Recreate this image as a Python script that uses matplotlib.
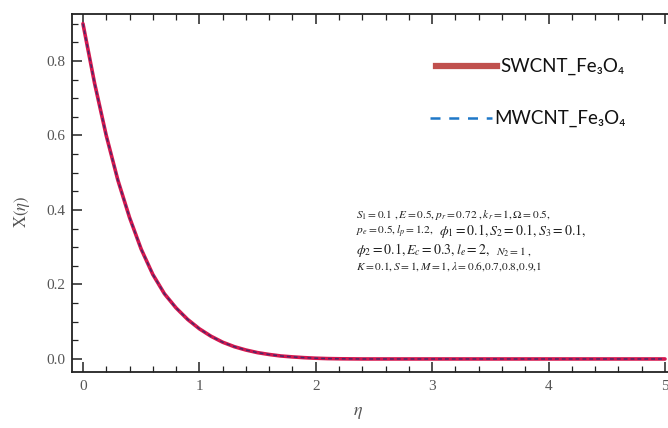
import matplotlib
matplotlib.use("Agg")
import matplotlib.pyplot as plt
from matplotlib.lines import Line2D
import numpy as np

# ---- data ----
eta = [0.0, 0.1, 0.2, 0.3, 0.4, 0.5, 0.6, 0.7, 0.8, 0.9, 1.0, 1.1, 1.2, 1.3, 1.4, 1.5,
       1.6, 1.7, 1.8, 1.9, 2.0, 2.1, 2.2, 2.4, 2.5, 3.0, 3.5, 4.0, 4.5, 5.0]
swcnt_y = [0.900, 0.740, 0.600, 0.480, 0.380, 0.295, 0.227, 0.175, 0.137, 0.106, 0.081,
           0.061, 0.045, 0.033, 0.024, 0.017, 0.012, 0.008, 0.0055, 0.0035, 0.002, 0.001,
           0.0005, 0.0, 0.0, 0.0, 0.0, 0.0, 0.0, 0.0]
mwcnt_y = [0.900, 0.740, 0.600, 0.480, 0.380, 0.295, 0.227, 0.175, 0.137, 0.106, 0.081,
           0.061, 0.045, 0.033, 0.024, 0.017, 0.012, 0.008, 0.0055, 0.0035, 0.002, 0.001,
           0.0005, 0.0, 0.0, 0.0, 0.0, 0.0, 0.0, 0.0]
series_labels = ["SWCNT_Fe\u2083O\u2084", "MWCNT_Fe\u2083O\u2084"]
xticks = [0, 1, 2, 3, 4, 5]
yticks = [0.0, 0.2, 0.4, 0.6, 0.8]

plt.rcParams['mathtext.fontset'] = 'stix'

W, H = 668, 428
fig = plt.figure(figsize=(W / 100, H / 100), dpi=100)
ax = fig.add_axes([72 / W, 1 - 372 / H, (668 - 72) / W, (372 - 14) / H])

ax.plot(eta, swcnt_y, color='#d4174f', lw=2.6, solid_capstyle='round', solid_joinstyle='round')
ax.plot(eta, mwcnt_y, color='#4a2868', lw=1.1, dashes=(2.5, 2.0))

ax.set_xlim(-0.094, 5.026)
ax.set_ylim(-0.035, 0.926)

ax.set_xticks(xticks)
ax.set_xticklabels([str(t) for t in xticks])
ax.set_yticks(yticks)
ax.set_yticklabels(["%.1f" % t for t in yticks])
ax.set_xticks(np.arange(0, 5.01, 0.2), minor=True)
ax.set_yticks(np.arange(0, 0.91, 0.05), minor=True)

ax.spines['right'].set_visible(False)
for s in ['left', 'bottom', 'top']:
    ax.spines[s].set_linewidth(1.3)
    ax.spines[s].set_color('#222222')

ax.tick_params(axis='both', which='major', direction='in', length=7, width=1.1,
               color='#222222', labelcolor='#555555', labelsize=11)
ax.tick_params(axis='both', which='minor', direction='in', length=4, width=0.9, color='#222222')
ax.tick_params(axis='x', which='both', top=True, pad=6)
ax.tick_params(axis='y', which='both', right=False, pad=5)
for lab in ax.get_xticklabels() + ax.get_yticklabels():
    lab.set_family('Liberation Serif')

fig.text(358 / W, 1 - 412 / H, r'$\eta$', fontsize=13, color='#555555', ha='center', va='center')
fig.text(22 / W, 1 - 212 / H, r'$\mathrm{X}(\eta)$', fontsize=12, color='#555555',
         rotation=90, ha='center', va='center')

# legend (drawn manually to match the reference layout)
fig.add_artist(Line2D([436 / W, 497 / W], [1 - 66 / H] * 2, transform=fig.transFigure,
                      color='#c0504d', lw=4.5))
fig.text(500 / W, 1 - 66 / H, series_labels[0], fontsize=13.5, family=['Lato', 'DejaVu Sans'],
         va='center', ha='left', color='#111111')
fig.add_artist(Line2D([430 / W, 492 / W], [1 - 118 / H] * 2, transform=fig.transFigure,
                      color='#1f78c8', lw=1.8, dashes=(4, 3.5)))
fig.text(494 / W, 1 - 118 / H, series_labels[1], fontsize=13.5, family=['Lato', 'DejaVu Sans'],
         va='center', ha='left', color='#111111')

# parameter annotation
small, big = 8.2, 10.0
def t(x, y, s, size):
    fig.text(x / W, 1 - y / H, s, fontsize=size, color='#222222', ha='left', va='center')

t(356, 215, r'$S_1=0.1\ ,E=0.5, p_r=0.72\ ,k_r=1,\Omega=0.5,$', small)
t(356, 232, r'$p_e=0.5, l_p=1.2,$', small)
t(439, 231, r'$\phi_1=0.1, S_2=0.1, S_3=0.1,$', big)
t(356, 250, r'$\phi_2=0.1, E_c=0.3, l_e=2,$', big)
t(496, 251, r'$N_2=1\ ,$', small)
t(356, 267, r'$K=0.1, S=1, M=1, \lambda=0.6{,}0.7{,}0.8{,}0.9{,}1$', small)

fig.savefig('out.png', dpi=100)
